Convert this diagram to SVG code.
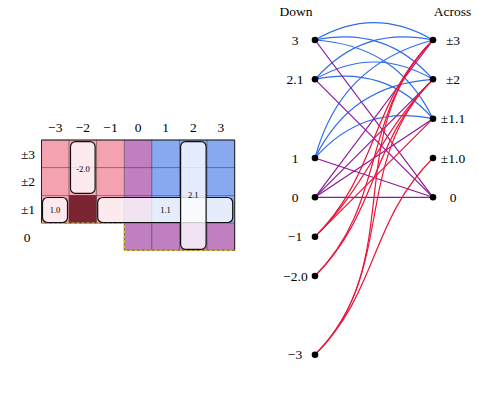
<svg xmlns="http://www.w3.org/2000/svg" width="478" height="395" viewBox="0 0 478 395">
<style>
text{font-family:"Liberation Serif","DejaVu Serif",serif;font-size:13.5px;fill:#000;text-anchor:middle}
.sm{font-size:8.5px}
.pk{fill:#f4a1b0}.pu{fill:#c07fc0}.bl{fill:#88a8f0}.dk{fill:#7b2434}
.cell{stroke:#000;stroke-opacity:.35;stroke-width:.8}
.box{fill:#fff;fill-opacity:.78;stroke:#111;stroke-width:1.2}
.eb{fill:none;stroke:#2f6ceb;stroke-width:1.2}
.ep{fill:none;stroke:#8a1a9a;stroke-width:1.2}
.er{fill:none;stroke:#ea1539;stroke-width:1.2}
.dot{fill:#000}
</style>
<rect width="478" height="395" fill="#fff"/>
<g id="grid">
<g class="cell">
<rect class="pk" x="41.5" y="140" width="27.6" height="27.7"/>
<rect class="pk" x="69.1" y="140" width="27.6" height="27.7"/>
<rect class="pk" x="96.7" y="140" width="27.6" height="27.7"/>
<rect class="pu" x="124.3" y="140" width="27.6" height="27.7"/>
<rect class="bl" x="151.9" y="140" width="27.6" height="27.7"/>
<rect class="bl" x="179.5" y="140" width="27.6" height="27.7"/>
<rect class="bl" x="207.1" y="140" width="27.6" height="27.7"/>
<rect class="pk" x="41.5" y="167.7" width="27.6" height="27.7"/>
<rect class="pk" x="69.1" y="167.7" width="27.6" height="27.7"/>
<rect class="pk" x="96.7" y="167.7" width="27.6" height="27.7"/>
<rect class="pu" x="124.3" y="167.7" width="27.6" height="27.7"/>
<rect class="bl" x="151.9" y="167.7" width="27.6" height="27.7"/>
<rect class="bl" x="179.5" y="167.7" width="27.6" height="27.7"/>
<rect class="bl" x="207.1" y="167.7" width="27.6" height="27.7"/>
<rect class="pk" x="41.5" y="195.4" width="27.6" height="27.7"/>
<rect class="dk" x="69.1" y="195.4" width="27.6" height="27.7"/>
<rect class="pk" x="96.7" y="195.4" width="27.6" height="27.7"/>
<rect class="pu" x="124.3" y="195.4" width="27.6" height="27.7"/>
<rect class="bl" x="151.9" y="195.4" width="27.6" height="27.7"/>
<rect class="bl" x="179.5" y="195.4" width="27.6" height="27.7"/>
<rect class="bl" x="207.1" y="195.4" width="27.6" height="27.7"/>
<rect class="pu" x="124.3" y="223.1" width="27.6" height="27.2"/>
<rect class="pu" x="151.9" y="223.1" width="27.6" height="27.2"/>
<rect class="pu" x="179.5" y="223.1" width="27.6" height="27.2"/>
<rect class="pu" x="207.1" y="223.1" width="27.6" height="27.2"/>
</g>
<path d="M41.5,223.1 V140 H234.7 V250.3" fill="none" stroke="#222" stroke-width="1"/>
<path d="M41.5,223.1 H124.3 V250.3 H234.7" fill="none" stroke="#555" stroke-width="0.8"/>
<path d="M41.5,223.1 H124.3 V250.3 H234.7" fill="none" stroke="#e8b82a" stroke-width="1.2" stroke-dasharray="3,2"/>
</g>
<g id="col-labels">
<text x="55.3" y="131.5">−3</text>
<text x="82.9" y="131.5">−2</text>
<text x="110.5" y="131.5">−1</text>
<text x="138.1" y="131.5">0</text>
<text x="165.7" y="131.5">1</text>
<text x="193.3" y="131.5">2</text>
<text x="220.9" y="131.5">3</text>
</g>
<g id="row-labels">
<text x="28" y="158.5">±3</text>
<text x="28" y="186.2">±2</text>
<text x="28" y="213.8">±1</text>
<text x="27" y="241.5">0</text>
</g>
<g id="box-1.0"><rect class="box" x="42.5" y="197.5" width="25" height="25" rx="5"/><text class="sm" x="55" y="213">1.0</text></g>
<g id="box--2.0"><rect class="box" x="70.5" y="141.7" width="24.6" height="51.7" rx="5"/><text class="sm" x="83" y="172">-2.0</text></g>
<g id="box-1.1"><rect class="box" x="97.7" y="197.5" width="135" height="25" rx="5"/><text class="sm" x="165.5" y="213">1.1</text></g>
<g id="box-2.1"><rect class="box" x="180.6" y="141.7" width="25.5" height="107.6" rx="5"/><text class="sm" x="193.3" y="198">2.1</text></g>

<g id="connectors">
<path class="eb" d="M315,40 C355,16.9 393,16.9 433,40"/>
<path class="eb" d="M315,40 C362.7,30.2 400.7,42.9 433,79.3"/>
<path class="eb" d="M315,40 C370.4,43.6 408.4,68.9 433,118.7"/>
<path class="eb" d="M315,79.3 C347.3,42.9 385.3,30.2 433,40"/>
<path class="eb" d="M315,79.3 C355,56.2 393,56.2 433,79.3"/>
<path class="eb" d="M315,79.3 C362.7,69.5 400.7,82.3 433,118.7"/>
<path class="eb" d="M315,158 C331.9,94.9 369.9,56.9 433,40"/>
<path class="eb" d="M315,158 C339.6,108.2 377.6,82.9 433,79.3"/>
<path class="eb" d="M315,158 C347.3,121.6 385.3,108.9 433,118.7"/>
<path class="ep" d="M315,40 L433,197.3"/>
<path class="ep" d="M315,79.3 L433,197.3"/>
<path class="ep" d="M315,158 L433,197.3"/>
<path class="ep" d="M315,197.3 L433,197.3"/>
<path class="ep" d="M315,197.3 L433,40"/>
<path class="ep" d="M315,197.3 L433,79.3"/>
<path class="ep" d="M315,197.3 L433,118.7"/>
<path class="er" d="M315,236.7 C378.5,173.2 369.5,103.5 433,40"/>
<path class="er" d="M315,236.7 C369.4,182.3 378.6,133.7 433,79.3"/>
<path class="er" d="M315,236.7 C361.2,190.5 386.8,164.9 433,118.7"/>
<path class="er" d="M315,276 C388,203 360,113 433,40"/>
<path class="er" d="M315,276 C378.5,212.5 369.5,142.8 433,79.3"/>
<path class="er" d="M315,354.7 C408,261.7 340,133 433,40"/>
<path class="er" d="M315,354.7 C397.9,271.8 350.1,162.2 433,79.3"/>
<path class="er" d="M315,354.7 C378.5,291.2 369.5,221.5 433,158"/>
</g>

<g id="title-down"><text x="296" y="15.5">Down</text></g>
<g id="title-across"><text x="452.5" y="15.5">Across</text></g>

<g id="d3"><circle class="dot" cx="315" cy="40" r="3.3"/><text x="295" y="44.5">3</text></g>
<g id="d2.1"><circle class="dot" cx="315" cy="79.3" r="3.3"/><text x="295" y="83.8">2.1</text></g>
<g id="d1"><circle class="dot" cx="315" cy="158" r="3.3"/><text x="295" y="162.5">1</text></g>
<g id="d0"><circle class="dot" cx="315" cy="197.3" r="3.3"/><text x="295" y="201.8">0</text></g>
<g id="dm1"><circle class="dot" cx="315" cy="236.7" r="3.3"/><text x="295" y="241.2">−1</text></g>
<g id="dm2.0"><circle class="dot" cx="315" cy="276" r="3.3"/><text x="295.5" y="280.5">−2.0</text></g>
<g id="dm3"><circle class="dot" cx="315" cy="354.7" r="3.3"/><text x="295" y="359.2">−3</text></g>

<g id="a3"><circle class="dot" cx="433" cy="40" r="3.3"/><text x="453" y="44.5">±3</text></g>
<g id="a2"><circle class="dot" cx="433" cy="79.3" r="3.3"/><text x="453" y="83.8">±2</text></g>
<g id="a1.1"><circle class="dot" cx="433" cy="118.7" r="3.3"/><text x="453" y="123.2">±1.1</text></g>
<g id="a1.0"><circle class="dot" cx="433" cy="158" r="3.3"/><text x="453" y="162.5">±1.0</text></g>
<g id="a0"><circle class="dot" cx="433" cy="197.3" r="3.3"/><text x="453" y="201.8">0</text></g>
</svg>
